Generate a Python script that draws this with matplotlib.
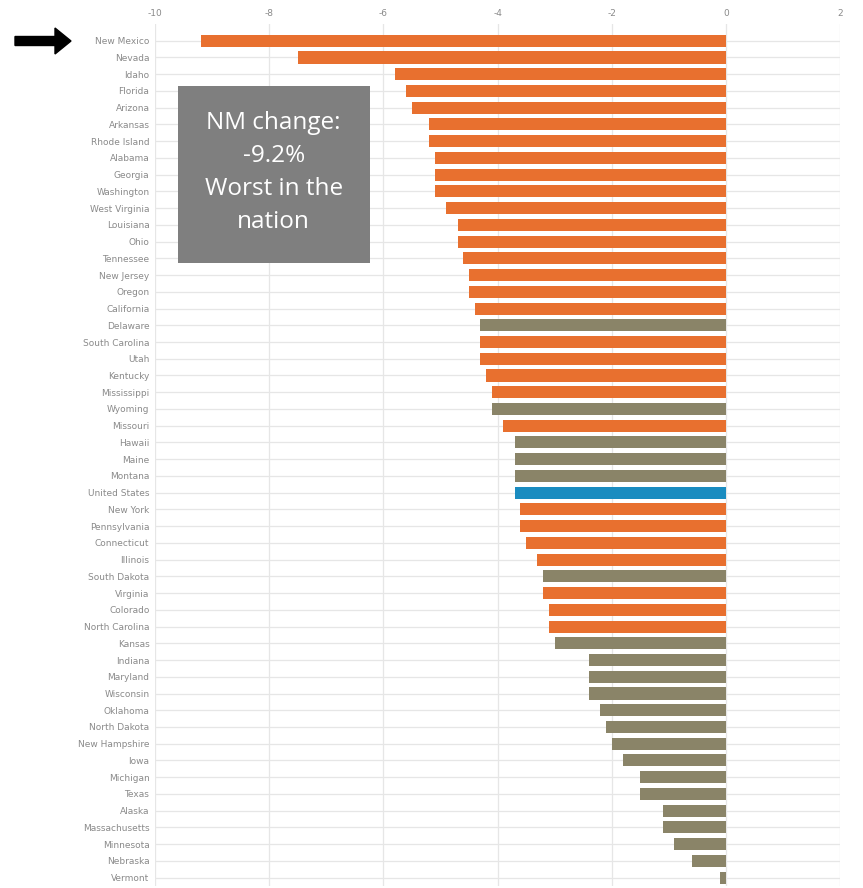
import matplotlib
matplotlib.use("Agg")
import matplotlib.pyplot as plt
from matplotlib.patches import FancyArrow, Rectangle

states = ["New Mexico", "Nevada", "Idaho", "Florida", "Arizona", "Arkansas", "Rhode Island",
          "Alabama", "Georgia", "Washington", "West Virginia", "Louisiana", "Ohio", "Tennessee",
          "New Jersey", "Oregon", "California", "Delaware", "South Carolina", "Utah", "Kentucky",
          "Mississippi", "Wyoming", "Missouri", "Hawaii", "Maine", "Montana", "United States",
          "New York", "Pennsylvania", "Connecticut", "Illinois", "South Dakota", "Virginia",
          "Colorado", "North Carolina", "Kansas", "Indiana", "Maryland", "Wisconsin", "Oklahoma",
          "North Dakota", "New Hampshire", "Iowa", "Michigan", "Texas", "Alaska", "Massachusetts",
          "Minnesota", "Nebraska", "Vermont"]
values = [-9.2, -7.5, -5.8, -5.6, -5.5, -5.2, -5.2, -5.1, -5.1, -5.1, -4.9, -4.7, -4.7, -4.6,
          -4.5, -4.5, -4.4, -4.3, -4.3, -4.3, -4.2, -4.1, -4.1, -3.9, -3.7, -3.7, -3.7, -3.7,
          -3.6, -3.6, -3.5, -3.3, -3.2, -3.2, -3.1, -3.1, -3.0, -2.4, -2.4, -2.4, -2.2, -2.1,
          -2.0, -1.8, -1.5, -1.5, -1.1, -1.1, -0.9, -0.6, -0.1]
# group: 'o' orange, 'g' gray, 'u' national
groups = ["o"] * 17 + ["g", "o", "o", "o", "o", "g", "o", "g", "g", "g", "u",
                       "o", "o", "o", "o", "g", "o", "o", "o", "g"] + ["g"] * 14
xticks = [-10, -8, -6, -4, -2, 0, 2]

color_map = {"o": "#E8702F", "g": "#8A8468", "u": "#1A8CC0"}
colors = [color_map[g] for g in groups]

fig = plt.figure(figsize=(8.63, 8.88), dpi=100)
ax = fig.add_axes([155 / 863, 2 / 888, 685 / 863, 862 / 888])

ypos = list(range(len(states)))
ax.barh(ypos, values, height=0.72, color=colors, zorder=3)

ax.set_xlim(-10, 2)
ax.set_ylim(len(states) - 0.5, -1.0)
ax.set_yticks(ypos)
ax.set_yticklabels(states, fontsize=6.5, color="#8a8a8a")
ax.set_xticks(xticks)
ax.set_xticklabels([str(t) for t in xticks], fontsize=6.5, color="#8a8a8a")
ax.xaxis.tick_top()
ax.tick_params(axis="both", length=0, pad=4)
ax.grid(True, axis="both", color="#e6e6e6", linewidth=0.9, zorder=0)
for s in ax.spines.values():
    s.set_visible(False)

ax.add_patch(Rectangle((-9.60, 2.68), 3.37, 10.59, facecolor="#7F7F7F", edgecolor="none", zorder=5))
ax.text(-7.92, 7.85, "NM change:\n-9.2%\nWorst in the\nnation", fontsize=17.5, color="white",
        family=["Open Sans", "DejaVu Sans"],
        ha="center", va="center", linespacing=1.5, zorder=6)

fig.patches.append(FancyArrow(15 / 863, 1 - 41 / 888, 40 / 863, 0, width=9 / 888,
                              head_width=26 / 888, head_length=16 / 863,
                              length_includes_head=False, color="black",
                              transform=fig.transFigure, figure=fig))

fig.savefig("out.png", dpi=100)
